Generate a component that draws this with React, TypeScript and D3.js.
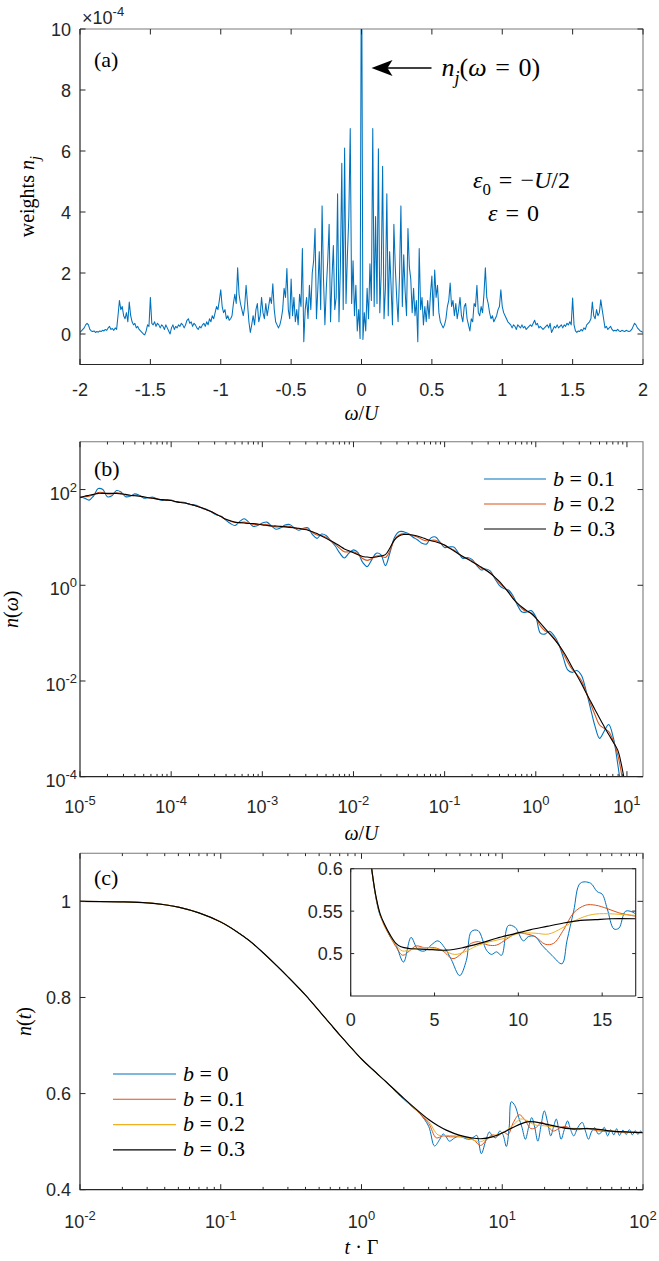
import React, { useEffect, useRef } from 'react';
import * as d3 from 'd3';

const W = 659;
const H = 1261;

const BLUE = '#0072bd';
const ORANGE = '#d95319';
const YELLOW = '#edb120';
const BLACK = '#000000';
const INK = '#262626';
const SANS = '"Liberation Sans", Arial, Helvetica, sans-serif';
const SERIF = '"Liberation Serif", "Times New Roman", "DejaVu Serif", serif';
const EQ = '\u2004=\u2004';

// (a) weights n_j in units of 1e-4, sampled on omega/U = -2 ... 2 with step 0.01
const omegaA0 = -2;
const omegaAStep = 0.01;
const weights = [
  0.05, 0.1, 0.15, 0.2, 0.3, 0.35, 0.3, 0.15, 0.1, 0.08,
  0.1, 0.05, 0.08, 0.06, 0.1, 0.08, 0.12, 0.1, 0.15, 0.12,
  0.2, 0.25, 0.15, 0.18, 0.12, 0.2, 0.15, 0.6, 1.1, 0.8,
  0.9, 0.6, 0.5, 0.7, 0.4, 1.05, 0.6, 0.4, 0.3, 0.35,
  0.2, 0.25, 0.15, 0.1, 0.05, 0.0, -0.03, 0.1, 0.3, 0.25,
  1.2, 0.35, 0.3, 0.4, 0.25, 0.35, 0.3, 0.2, 0.3, 0.25,
  0.15, 0.3, 0.2, 0.1, 0.0, 0.2, 0.3, 0.15, 0.25, 0.2,
  0.3, 0.25, 0.35, 0.3, 0.2, 0.3, 0.45, 0.5, 0.35, 0.4,
  0.25, 0.35, 0.3, 0.2, 0.15, 0.25, 0.2, 0.3, 0.35, 0.25,
  0.4, 0.3, 0.5, 0.4, 0.6, 0.5, 0.7, 0.9, 0.8, 1.1,
  1.45, 0.9, 0.7, 0.8, 0.5, 0.6, 0.45, 0.5, 0.6, 1.0,
  1.3, 1.0, 2.17, 1.3, 1.0, 0.8, 0.6, 0.9, 1.6, 1.0,
  0.4, 0.05, 0.3, 0.6, 0.3, 0.8, 1.0, 0.4, 0.6, 1.2,
  0.7, 0.5, 1.0, 0.6, 0.9, 1.2, 1.0, 1.65, 0.8, 0.4,
  0.3, 0.2, 0.3, 0.5, 0.8, 1.5, 1.2, 2.15, 0.8, 0.5,
  1.8, 0.6, 1.2, 0.4, 0.8, 0.3, 1.3, 0.9, 2.8, -0.25,
  0.8, 1.2, 0.5, 1.6, 0.8, 2.0, 2.4, 3.46, 0.5, 1.5,
  2.7, 0.8, 4.2, 1.8, 0.3, 1.5, 2.4, 3.6, 0.4, 1.8,
  2.9, 0.8, 1.2, 4.6, 0.4, 2.2, 5.6, 0.8, 6.1, 1.0,
  2.6, 3.85, 6.74, 1.0, 2.4, 0.6, 1.6, 0.1, 0.8, -0.15,
  14, -0.18, 0.7, 0.1, 1.5, 0.5, 2.3, 1.1, 6.74, 0.9,
  3.85, 1.0, 6.07, 0.7, 2.0, 5.5, 0.5, 1.5, 4.6, 0.6,
  2.7, 1.6, 0.3, 3.6, 2.2, 1.2, 0.4, 1.9, 4.2, 0.9,
  2.6, 1.4, 0.6, 3.46, 2.2, 1.8, 0.7, 1.5, 0.6, 1.1,
  -0.25, 2.8, 0.8, 1.2, 0.3, 0.9, 0.4, 1.1, 0.5, 1.3,
  1.9, 0.6, 2.1, 1.2, 1.6, 0.7, 0.4, 0.3, 0.2, 0.3,
  0.5, 0.9, 1.1, 1.67, 0.9, 1.1, 0.6, 1.0, 0.5, 0.8,
  1.2, 0.6, 0.4, 0.9, 1.0, 0.5, 0.3, 0.1, 0.5, 0.4,
  1.0, 0.9, 1.6, 0.7, 0.6, 0.9, 0.7, 1.3, 2.17, 1.2,
  1.0, 0.7, 0.5, 0.6, 0.4, 0.5, 0.6, 0.8, 0.9, 1.45,
  0.9, 0.7, 0.6, 0.5, 0.4, 0.35, 0.3, 0.2, 0.3, 0.25,
  0.15, 0.3, 0.25, 0.2, 0.3, 0.2, 0.25, 0.15, 0.2, 0.25,
  0.3, 0.25, 0.35, 0.45, 0.3, 0.35, 0.2, 0.25, 0.2, 0.15,
  0.2, 0.25, 0.3, 0.2, 0.35, 0.05, 0.15, 0.25, 0.2, 0.3,
  0.2, 0.25, 0.3, 0.2, 0.3, 0.25, 0.35, 0.3, 0.4, 0.3,
  1.18, 0.3, 0.1, 0.05, 0.1, 0.08, 0.15, 0.1, 0.2, 0.15,
  0.3, 0.35, 0.4, 0.5, 1.05, 0.6, 0.5, 0.8, 0.6, 0.7,
  1.12, 0.8, 0.5, 0.2, 0.25, 0.15, 0.2, 0.25, 0.15, 0.1,
  0.12, 0.1, 0.15, 0.1, 0.08, 0.12, 0.1, 0.08, 0.12, 0.1,
  0.08, 0.1, 0.15, 0.25, 0.35, 0.3, 0.2, 0.15, 0.1, 0.08,
  0.05,
];

// (b) log10 n(omega), sampled on log10(omega/U) = -5 ... 1 with step 0.05
const logOmega0 = -5;
const logOmegaStep = 0.05;
const logN_b01 = [
  1.85, 1.82, 1.78, 1.87, 2.02, 2.0, 1.85, 1.87, 1.98, 1.95,
  1.85, 1.86, 1.91, 1.88, 1.82, 1.83, 1.84, 1.8, 1.77, 1.79,
  1.78, 1.74, 1.74, 1.73, 1.69, 1.68, 1.65, 1.6, 1.58, 1.52,
  1.47, 1.44, 1.36, 1.29, 1.25, 1.33, 1.39, 1.32, 1.23, 1.25,
  1.3, 1.32, 1.24, 1.17, 1.2, 1.26, 1.27, 1.2, 1.15, 1.19,
  1.2, 1.06, 0.98, 1.07, 1.04, 0.93, 0.82, 0.67, 0.57, 0.67,
  0.74, 0.68, 0.48, 0.39, 0.53, 0.67, 0.64, 0.41, 0.68, 1.0,
  1.12, 1.12, 1.08, 1.01, 0.95, 0.88, 0.86, 0.99, 1.01, 0.9,
  0.79, 0.8, 0.8, 0.68, 0.56, 0.58, 0.54, 0.42, 0.32, 0.34,
  0.3, 0.14, 0.0, -0.07, -0.1, -0.22, -0.42, -0.56, -0.56, -0.53,
  -0.66, -1.0, -1.02, -0.96, -1.05, -1.22, -1.5, -1.77, -1.82, -1.78,
  -1.88, -2.19, -2.57, -2.95, -3.2, -3.05, -2.91, -3.18, -3.75, -4.45,
  -5.4,
];
const logN_b02 = [
  1.84, 1.85, 1.86, 1.89, 1.94, 1.94, 1.91, 1.91, 1.93, 1.92,
  1.89, 1.87, 1.88, 1.87, 1.84, 1.83, 1.82, 1.8, 1.79, 1.78,
  1.77, 1.75, 1.73, 1.72, 1.7, 1.67, 1.64, 1.61, 1.57, 1.53,
  1.48, 1.43, 1.38, 1.34, 1.31, 1.31, 1.32, 1.3, 1.27, 1.27,
  1.27, 1.27, 1.24, 1.22, 1.22, 1.23, 1.23, 1.2, 1.18, 1.18,
  1.17, 1.1, 1.05, 1.04, 1.0, 0.93, 0.86, 0.77, 0.7, 0.7,
  0.7, 0.65, 0.56, 0.52, 0.56, 0.61, 0.61, 0.58, 0.72, 0.95,
  1.05, 1.08, 1.07, 1.04, 1.01, 0.96, 0.93, 0.94, 0.94, 0.89,
  0.83, 0.78, 0.74, 0.67, 0.59, 0.56, 0.51, 0.44, 0.36, 0.32,
  0.26, 0.16, 0.05, -0.04, -0.13, -0.26, -0.39, -0.49, -0.55, -0.58,
  -0.68, -0.85, -0.95, -1.0, -1.1, -1.24, -1.42, -1.61, -1.76, -1.86,
  -1.99, -2.22, -2.47, -2.71, -2.92, -2.99, -3.06, -3.25, -3.55, -4.05,
  -4.8,
];
const logN_b03 = [
  1.83, 1.86, 1.88, 1.9, 1.92, 1.92, 1.92, 1.92, 1.92, 1.91,
  1.9, 1.88, 1.87, 1.86, 1.85, 1.83, 1.82, 1.8, 1.79, 1.78,
  1.77, 1.75, 1.73, 1.72, 1.7, 1.67, 1.64, 1.61, 1.57, 1.53,
  1.48, 1.43, 1.38, 1.35, 1.32, 1.31, 1.3, 1.29, 1.29, 1.28,
  1.26, 1.25, 1.24, 1.24, 1.23, 1.22, 1.21, 1.2, 1.19, 1.17,
  1.15, 1.12, 1.08, 1.03, 0.98, 0.93, 0.88, 0.82, 0.76, 0.72,
  0.68, 0.64, 0.6, 0.59, 0.58, 0.59, 0.61, 0.64, 0.78, 0.95,
  1.03, 1.06, 1.06, 1.05, 1.03, 1.0, 0.96, 0.93, 0.91, 0.88,
  0.84, 0.78, 0.72, 0.66, 0.6, 0.55, 0.49, 0.44, 0.38, 0.32,
  0.25, 0.17, 0.08, -0.03, -0.15, -0.28, -0.38, -0.46, -0.53, -0.59,
  -0.68, -0.79, -0.9, -1.01, -1.12, -1.24, -1.38, -1.54, -1.72, -1.88,
  -2.05, -2.24, -2.42, -2.6, -2.78, -2.95, -3.12, -3.28, -3.45, -3.85,
  -4.4,
];
const bLabelsB = ['0.1', '0.2', '0.3'];

// (c) n(t) against t*Gamma, pairs [t, n]
const nt_b0: [number, number][] = [
  [0.01, 1.0], [0.02, 0.999], [0.03, 0.997], [0.04, 0.993], [0.05, 0.988], [0.07, 0.976],
  [0.1, 0.957], [0.13, 0.937], [0.16, 0.918], [0.2, 0.893], [0.25, 0.866], [0.3, 0.843],
  [0.4, 0.805], [0.5, 0.772], [0.6, 0.745], [0.7, 0.722], [0.8, 0.703], [1.0, 0.672],
  [1.2, 0.65], [1.5, 0.624], [1.8, 0.6], [2.0, 0.588], [2.3, 0.572], [2.6, 0.558],
  [3.0, 0.532], [3.3, 0.491], [3.6, 0.505], [3.8, 0.516], [4.0, 0.51], [4.2, 0.501],
  [4.6, 0.508], [5.0, 0.513], [5.4, 0.507], [5.9, 0.505], [6.3, 0.51], [6.6, 0.513],
  [7.1, 0.475], [7.6, 0.5], [8.1, 0.52], [8.5, 0.512], [9.0, 0.508], [9.6, 0.522],
  [10.1, 0.515], [10.7, 0.49], [11.2, 0.53], [11.6, 0.583], [12.3, 0.575], [13.1, 0.55],
  [13.8, 0.53], [14.6, 0.505], [15.4, 0.53], [16.2, 0.55], [17.0, 0.53], [17.9, 0.501],
  [18.9, 0.535], [19.9, 0.564], [21.0, 0.54], [22.1, 0.512], [23.1, 0.53], [24.2, 0.547],
  [25.2, 0.525], [26.2, 0.505], [27.6, 0.525], [29.1, 0.543], [30.6, 0.525], [32.2, 0.512],
  [34.5, 0.53], [37, 0.54], [39, 0.522], [41, 0.505], [43, 0.52], [45.5, 0.529],
  [48, 0.516], [50.5, 0.519], [53, 0.53], [56, 0.512], [59, 0.525], [62, 0.514],
  [65, 0.527], [68, 0.513], [72, 0.524], [76, 0.515], [80, 0.525], [84, 0.514],
  [88, 0.523], [92, 0.515], [96, 0.522], [100, 0.517],
];
const nt_b01: [number, number][] = [
  [0.01, 1.0], [0.02, 0.999], [0.03, 0.997], [0.04, 0.993], [0.05, 0.988], [0.07, 0.976],
  [0.1, 0.957], [0.13, 0.937], [0.16, 0.918], [0.2, 0.893], [0.25, 0.866], [0.3, 0.843],
  [0.4, 0.805], [0.5, 0.772], [0.6, 0.745], [0.7, 0.722], [0.8, 0.703], [1.0, 0.672],
  [1.2, 0.65], [1.5, 0.624], [2.0, 0.589], [2.5, 0.563], [3.0, 0.538], [3.4, 0.508],
  [3.8, 0.512], [4.3, 0.51], [5.0, 0.51], [5.7, 0.508], [6.3, 0.503], [7.0, 0.492],
  [7.8, 0.505], [8.5, 0.514], [9.3, 0.512], [10.2, 0.52], [11.0, 0.515], [12.0, 0.54],
  [13.2, 0.556], [14.5, 0.545], [16, 0.527], [17.5, 0.53], [19, 0.54], [21, 0.532],
  [23, 0.522], [25.5, 0.528], [28, 0.532], [31, 0.526], [35, 0.525], [40, 0.528],
  [45, 0.524], [50, 0.522], [60, 0.521], [70, 0.52], [85, 0.519], [100, 0.518],
];
const nt_b02: [number, number][] = [
  [0.01, 1.0], [0.02, 0.999], [0.03, 0.997], [0.04, 0.993], [0.05, 0.988], [0.07, 0.976],
  [0.1, 0.957], [0.13, 0.937], [0.16, 0.918], [0.2, 0.893], [0.25, 0.866], [0.3, 0.843],
  [0.4, 0.805], [0.5, 0.772], [0.6, 0.745], [0.7, 0.722], [0.8, 0.703], [1.0, 0.672],
  [1.2, 0.65], [1.5, 0.624], [2.0, 0.589], [2.5, 0.564], [3.0, 0.542], [3.5, 0.514],
  [4.0, 0.513], [5.0, 0.511], [6.0, 0.505], [7.0, 0.5], [8.0, 0.508], [9.0, 0.514],
  [10, 0.518], [12, 0.535], [13.5, 0.547], [15, 0.544], [17, 0.535], [20, 0.533],
  [25, 0.53], [30, 0.528], [40, 0.527], [50, 0.524], [60, 0.522], [80, 0.52], [100, 0.519],
];
const nt_b03: [number, number][] = [
  [0.01, 1.0], [0.02, 0.999], [0.03, 0.997], [0.04, 0.993], [0.05, 0.988], [0.07, 0.976],
  [0.1, 0.957], [0.13, 0.937], [0.16, 0.918], [0.2, 0.893], [0.25, 0.866], [0.3, 0.843],
  [0.4, 0.805], [0.5, 0.772], [0.6, 0.745], [0.7, 0.722], [0.8, 0.703], [1.0, 0.672],
  [1.2, 0.65], [1.5, 0.624], [2.0, 0.59], [2.5, 0.565], [3.0, 0.546], [3.5, 0.533],
  [4.0, 0.524], [5.0, 0.513], [6.0, 0.508], [7.0, 0.506], [8.5, 0.51], [10, 0.518],
  [12, 0.53], [15, 0.541], [17, 0.541], [20, 0.537], [25, 0.531], [30, 0.527],
  [40, 0.527], [50, 0.525], [60, 0.522], [80, 0.52], [100, 0.519],
];

// inset of (c): linear time axis 0 ... 17
const inset_b0: [number, number][] = [
  [0.9, 0.66], [1.25, 0.6], [1.5, 0.566], [1.75, 0.545], [2.0, 0.535], [2.35, 0.52],
  [2.7, 0.51], [3.15, 0.49], [3.6, 0.519], [4.0, 0.505], [4.4, 0.503], [4.8, 0.51],
  [5.2, 0.515], [5.6, 0.507], [6.0, 0.493], [6.5, 0.474], [6.9, 0.492], [7.2, 0.526],
  [7.6, 0.527], [8.1, 0.504], [8.4, 0.499], [8.7, 0.502], [9.0, 0.498], [9.4, 0.533],
  [9.8, 0.531], [10.3, 0.515], [10.6, 0.52], [11.0, 0.52], [11.4, 0.51], [12.0, 0.498],
  [12.6, 0.488], [12.9, 0.515], [13.3, 0.55], [13.7, 0.583], [14.3, 0.583], [14.7, 0.573],
  [15.0, 0.57], [15.3, 0.553], [15.7, 0.529], [16.0, 0.53], [16.4, 0.55], [16.9, 0.548],
  [17, 0.546],
];
const inset_b01: [number, number][] = [
  [0.9, 0.66], [1.25, 0.6], [1.5, 0.567], [1.75, 0.546], [2.0, 0.533], [2.35, 0.52],
  [2.7, 0.508], [3.1, 0.498], [3.5, 0.503], [3.9, 0.509], [4.4, 0.507], [5.0, 0.507],
  [5.5, 0.503], [6.1, 0.494], [6.6, 0.5], [7.1, 0.511], [7.6, 0.514], [8.2, 0.51],
  [8.7, 0.51], [9.3, 0.517], [9.9, 0.524], [10.5, 0.523], [11.0, 0.52], [11.6, 0.511],
  [12.1, 0.512], [12.7, 0.528], [13.3, 0.548], [14.0, 0.557], [14.6, 0.557], [15.3, 0.553],
  [16.0, 0.548], [17, 0.544],
];
const inset_b02: [number, number][] = [
  [0.9, 0.66], [1.25, 0.6], [1.5, 0.567], [1.75, 0.546], [2.0, 0.534], [2.35, 0.521],
  [2.7, 0.51], [3.1, 0.503], [3.6, 0.505], [4.2, 0.507], [5.0, 0.506], [5.6, 0.503],
  [6.2, 0.499], [6.8, 0.502], [7.5, 0.509], [8.3, 0.514], [9.2, 0.518], [10.1, 0.524],
  [11.0, 0.524], [11.8, 0.523], [12.6, 0.53], [13.5, 0.54], [14.4, 0.546], [15.3, 0.547],
  [16.2, 0.546], [17, 0.545],
];
const inset_b03: [number, number][] = [
  [0.9, 0.66], [1.25, 0.6], [1.5, 0.568], [1.75, 0.547], [2.0, 0.535], [2.35, 0.522],
  [2.7, 0.512], [3.0, 0.508], [3.5, 0.506], [4.5, 0.505], [5.7, 0.504], [6.7, 0.507],
  [7.7, 0.512], [8.7, 0.518], [9.7, 0.523], [10.7, 0.528], [11.7, 0.532], [12.7, 0.536],
  [13.7, 0.539], [14.6, 0.54], [15.5, 0.541], [17, 0.541],
];
const bLabelsC = ['0', '0.1', '0.2', '0.3'];

type Part = { s: string; it?: boolean; sub?: boolean; sup?: boolean };

// serif "math" text built from tspans, with sub/superscripts
function mathText(g: any, x: number, y: number, parts: Part[], size: number, anchor = 'start', rotate = 0) {
  const t = g.append('text')
    .attr('x', x).attr('y', y)
    .attr('font-family', SERIF).attr('font-size', size)
    .attr('text-anchor', anchor).attr('fill', '#000')
    .style('white-space', 'pre');
  if (rotate) t.attr('transform', `rotate(${rotate} ${x} ${y})`);
  let level = 0;
  parts.forEach((p) => {
    const target = p.sub ? size * 0.3 : p.sup ? -size * 0.4 : 0;
    const span = t.append('tspan').attr('dy', target - level).text(p.s);
    level = target;
    if (p.it) span.attr('font-style', 'italic');
    if (p.sub || p.sup) span.attr('font-size', size * 0.7);
  });
  return t;
}

function label(g: any, x: number, y: number, s: string, anchor: string) {
  g.append('text')
    .attr('x', x).attr('y', y)
    .attr('font-family', SANS).attr('font-size', 18)
    .attr('fill', INK).attr('text-anchor', anchor)
    .text(s);
}

function powLabel(g: any, x: number, y: number, exp: number, anchor: string) {
  const t = g.append('text')
    .attr('x', x).attr('y', y)
    .attr('font-family', SANS).attr('font-size', 18)
    .attr('fill', INK).attr('text-anchor', anchor);
  t.append('tspan').text('10');
  t.append('tspan').attr('dy', -8).attr('font-size', 13).text(String(exp));
}

function box(g: any, L: number, R: number, T: number, B: number, faint = true) {
  g.append('path')
    .attr('d', `M${L},${T}H${R}V${B}`)
    .attr('fill', 'none').attr('stroke', faint ? '#7a7a7a' : INK).attr('stroke-width', 1.1);
  g.append('path')
    .attr('d', `M${L},${T}V${B}H${R}`)
    .attr('fill', 'none').attr('stroke', INK).attr('stroke-width', 1.2);
}

function xTicks(g: any, xs: any, vals: number[], T: number, B: number, len: number) {
  vals.forEach((v) => {
    const x = xs(v);
    g.append('line').attr('x1', x).attr('x2', x).attr('y1', B).attr('y2', B - len)
      .attr('stroke', INK).attr('stroke-width', 1);
    g.append('line').attr('x1', x).attr('x2', x).attr('y1', T).attr('y2', T + len)
      .attr('stroke', INK).attr('stroke-width', 1);
  });
}

function yTicks(g: any, ys: any, vals: number[], L: number, R: number, len: number) {
  vals.forEach((v) => {
    const y = ys(v);
    g.append('line').attr('x1', L).attr('x2', L + len).attr('y1', y).attr('y2', y)
      .attr('stroke', INK).attr('stroke-width', 1);
    g.append('line').attr('x1', R).attr('x2', R - len).attr('y1', y).attr('y2', y)
      .attr('stroke', INK).attr('stroke-width', 1);
  });
}

function minorLog(lo: number, hi: number, maxVal: number) {
  const out: number[] = [];
  for (let d = lo; d <= hi; d++) {
    for (let k = 2; k <= 9; k++) {
      const v = k * Math.pow(10, d);
      if (v <= maxVal) out.push(v);
    }
  }
  return out;
}

function clip(defs: any, id: string, L: number, R: number, T: number, B: number) {
  defs.append('clipPath').attr('id', id)
    .append('rect').attr('x', L).attr('y', T).attr('width', R - L).attr('height', B - T);
}

export default function App() {
  const svgRef = useRef<SVGSVGElement>(null);

  useEffect(() => {
    const svg = d3.select(svgRef.current);
    svg.selectAll('*').remove();
    const defs = svg.append('defs');

    // ---------- panel (a) ----------
    const aL = 80, aR = 643, aT = 29, aB = 364.5;
    const ax = d3.scaleLinear().domain([-2, 2]).range([aL, aR]);
    const ay = d3.scaleLinear().domain([-1, 10]).range([aB, aT]);
    clip(defs, 'clipA', aL, aR, aT, aB);
    const ga = svg.append('g');

    const weightPts = weights.map((w, i) => [omegaA0 + i * omegaAStep, w] as [number, number]);
    ga.append('path')
      .datum(weightPts)
      .attr('clip-path', 'url(#clipA)')
      .attr('fill', 'none').attr('stroke', BLUE).attr('stroke-width', 1.05)
      .attr('stroke-linejoin', 'round')
      .attr('d', d3.line<[number, number]>().x((d) => ax(d[0])).y((d) => ay(d[1])));

    box(ga, aL, aR, aT, aB);
    const aXT = d3.range(-2, 2.001, 0.5);
    const aYT = [0, 2, 4, 6, 8, 10];
    xTicks(ga, ax, aXT, aT, aB, 5.5);
    yTicks(ga, ay, aYT, aL, aR, 5.5);
    aXT.forEach((v) => label(ga, ax(v), aB + 31, String(Math.round(v * 10) / 10), 'middle'));
    aYT.forEach((v) => label(ga, aL - 9, ay(v) + 6.5, String(v), 'end'));

    const exp = ga.append('text').attr('x', aL + 2).attr('y', 24)
      .attr('font-family', SANS).attr('font-size', 18).attr('fill', INK);
    exp.append('tspan').text('×10');
    exp.append('tspan').attr('dy', -8).attr('font-size', 13).text('-4');

    mathText(ga, 94, 67, [{ s: '(a)' }], 22);
    mathText(ga, 34, (aT + aB) / 2, [{ s: 'weights ' }, { s: 'n', it: true }, { s: 'j', it: true, sub: true }], 20, 'middle', -90);
    mathText(ga, (aL + aR) / 2, 420, [{ s: 'ω', it: true }, { s: '/' }, { s: 'U', it: true }], 20, 'middle');

    // arrow pointing to the omega = 0 weight
    const tipX = ax(0) + 10, arrowY = 68;
    ga.append('line').attr('x1', tipX + 14).attr('x2', tipX + 60).attr('y1', arrowY).attr('y2', arrowY)
      .attr('stroke', '#000').attr('stroke-width', 1.4);
    ga.append('path')
      .attr('d', `M${tipX},${arrowY}L${tipX + 21},${arrowY - 8}L${tipX + 16},${arrowY}L${tipX + 21},${arrowY + 8}Z`)
      .attr('fill', '#000');
    mathText(ga, tipX + 70, 76, [
      { s: 'n', it: true }, { s: 'j', it: true, sub: true }, { s: '(' }, { s: 'ω', it: true }, { s: EQ + '0)' },
    ], 26);
    mathText(ga, 473, 188, [
      { s: 'ε', it: true }, { s: '0', sub: true }, { s: EQ + '−' }, { s: 'U', it: true }, { s: '/2' },
    ], 24);
    mathText(ga, 488, 221, [{ s: 'ε', it: true }, { s: EQ + '0' }], 24);

    // ---------- panel (b) ----------
    const bL = 80, bR = 643, bT = 441.7, bB = 776.7;
    const bx = d3.scaleLog().domain([1e-5, 15]).range([bL, bR]);
    const by = d3.scaleLog().domain([1e-4, 1e3]).range([bB, bT]);
    clip(defs, 'clipB', bL, bR, bT, bB);
    const gb = svg.append('g');
    const bLine = d3.line<[number, number]>()
      .x((d) => bx(d[0])).y((d) => by(d[1]))
      .curve(d3.curveCatmullRom.alpha(0.5));
    const toPts = (arr: number[]) =>
      arr.map((v, i) => [Math.pow(10, logOmega0 + i * logOmegaStep), Math.pow(10, v)] as [number, number]);
    const bSeries = [
      { d: logN_b01, c: BLUE },
      { d: logN_b02, c: ORANGE },
      { d: logN_b03, c: BLACK },
    ];
    bSeries.forEach((s) => {
      gb.append('path').datum(toPts(s.d))
        .attr('clip-path', 'url(#clipB)')
        .attr('fill', 'none').attr('stroke', s.c).attr('stroke-width', 1.1)
        .attr('d', bLine);
    });

    box(gb, bL, bR, bT, bB);
    const bXMajor = [1e-5, 1e-4, 1e-3, 1e-2, 1e-1, 1, 10];
    xTicks(gb, bx, bXMajor, bT, bB, 5.5);
    xTicks(gb, bx, minorLog(-5, 1, 15), bT, bB, 2.8);
    const bYMajor = [1e-4, 1e-2, 1, 1e2];
    yTicks(gb, by, bYMajor, bL, bR, 5.5);
    bXMajor.forEach((v) => powLabel(gb, bx(v), bB + 36, Math.round(Math.log10(v)), 'middle'));
    bYMajor.forEach((v) => powLabel(gb, bL - 3, by(v) + 10, Math.round(Math.log10(v)), 'end'));

    mathText(gb, 94, 476, [{ s: '(b)' }], 22);
    mathText(gb, 18, (bT + bB) / 2, [{ s: 'n', it: true }, { s: '(' }, { s: 'ω', it: true }, { s: ')' }], 20, 'middle', -90);
    mathText(gb, (bL + bR) / 2, 840, [{ s: 'ω', it: true }, { s: '/' }, { s: 'U', it: true }], 20, 'middle');

    bSeries.forEach((s, i) => {
      const yy = 479 + i * 25;
      gb.append('line').attr('x1', 484).attr('x2', 546).attr('y1', yy).attr('y2', yy)
        .attr('stroke', s.c).attr('stroke-width', 1.1);
      mathText(gb, 553, yy + 6.5, [{ s: 'b', it: true }, { s: ' = ' + bLabelsB[i] }], 22);
    });

    // ---------- panel (c) ----------
    const cL = 80, cR = 643, cT = 853.3, cB = 1189.7;
    const cx = d3.scaleLog().domain([1e-2, 1e2]).range([cL, cR]);
    const cy = d3.scaleLinear().domain([0.4, 1.1]).range([cB, cT]);
    clip(defs, 'clipC', cL, cR, cT, cB);
    const gc = svg.append('g');
    const cLine = d3.line<[number, number]>()
      .x((d) => cx(d[0])).y((d) => cy(d[1]))
      .curve(d3.curveCatmullRom.alpha(0.5));
    const cSeries = [
      { d: nt_b0, ins: inset_b0, c: BLUE, w: 1 },
      { d: nt_b01, ins: inset_b01, c: ORANGE, w: 1 },
      { d: nt_b02, ins: inset_b02, c: YELLOW, w: 1 },
      { d: nt_b03, ins: inset_b03, c: BLACK, w: 1.2 },
    ];
    cSeries.forEach((s) => {
      gc.append('path').datum(s.d)
        .attr('clip-path', 'url(#clipC)')
        .attr('fill', 'none').attr('stroke', s.c).attr('stroke-width', s.w)
        .attr('d', cLine);
    });

    box(gc, cL, cR, cT, cB);
    const cXMajor = [1e-2, 1e-1, 1, 10, 100];
    xTicks(gc, cx, cXMajor, cT, cB, 5.5);
    xTicks(gc, cx, minorLog(-2, 1, 100), cT, cB, 2.8);
    const cYT = [0.4, 0.6, 0.8, 1];
    yTicks(gc, cy, cYT, cL, cR, 5.5);
    cXMajor.forEach((v) => powLabel(gc, cx(v), cB + 38, Math.round(Math.log10(v)), 'middle'));
    cYT.forEach((v) => label(gc, cL - 9, cy(v) + 6.5, String(v), 'end'));

    mathText(gc, 94, 885, [{ s: '(c)' }], 22);
    mathText(gc, 31, (cT + cB) / 2, [{ s: 'n', it: true }, { s: '(' }, { s: 't', it: true }, { s: ')' }], 20, 'middle', -90);
    mathText(gc, (cL + cR) / 2, 1254, [{ s: 't', it: true }, { s: ' · Γ' }], 20, 'middle');

    cSeries.forEach((s, i) => {
      const yy = 1074 + i * 25.3;
      gc.append('line').attr('x1', 113).attr('x2', 176).attr('y1', yy).attr('y2', yy)
        .attr('stroke', s.c).attr('stroke-width', 1.1);
      mathText(gc, 183, yy + 6.5, [{ s: 'b', it: true }, { s: ' = ' + bLabelsC[i] }], 22);
    });

    // inset with linear time
    const iL = 350.7, iR = 635.7, iT = 868.7, iB = 996;
    const ix = d3.scaleLinear().domain([0, 17]).range([iL, iR]);
    const iy = d3.scaleLinear().domain([0.45, 0.6]).range([iB, iT]);
    clip(defs, 'clipI', iL, iR, iT, iB);
    const gi = svg.append('g');
    gi.append('rect').attr('x', iL).attr('y', iT).attr('width', iR - iL).attr('height', iB - iT).attr('fill', '#fff');
    const iLine = d3.line<[number, number]>()
      .x((d) => ix(d[0])).y((d) => iy(d[1]))
      .curve(d3.curveCatmullRom.alpha(0.5));
    cSeries.forEach((s) => {
      gi.append('path').datum(s.ins)
        .attr('clip-path', 'url(#clipI)')
        .attr('fill', 'none').attr('stroke', s.c).attr('stroke-width', s.w)
        .attr('d', iLine);
    });
    box(gi, iL, iR, iT, iB, false);
    const iXT = [0, 5, 10, 15];
    const iYT = [0.5, 0.55, 0.6];
    xTicks(gi, ix, iXT, iT, iB, 3.5);
    yTicks(gi, iy, iYT, iL, iR, 3.5);
    iXT.forEach((v) => label(gi, ix(v), iB + 30, String(v), 'middle'));
    iYT.forEach((v) => label(gi, iL - 8, iy(v) + 6.5, String(v), 'end'));
  }, []);

  return (
    <svg
      ref={svgRef}
      width={W}
      height={H}
      style={{ position: 'absolute', left: 0, top: 0, background: '#fff', display: 'block' }}
    />
  );
}
